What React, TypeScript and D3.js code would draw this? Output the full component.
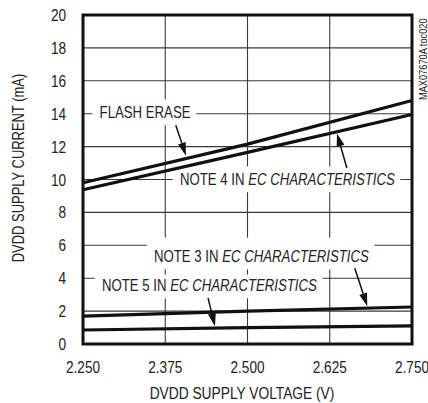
import React, { useEffect, useRef } from 'react'
import * as d3 from 'd3'

const voltages = [2.25, 2.5, 2.75]
const flashErase = [9.8, 12.15, 14.8]
const note4 = [9.38, 11.65, 13.95]
const note3 = [1.7, 2.0, 2.25]
const note5 = [0.85, 1.0, 1.1]

const xTicks = [2.25, 2.375, 2.5, 2.625, 2.75]
const xTickLabels = ['2.250', '2.375', '2.500', '2.625', '2.750']
const yTicks = [0, 2, 4, 6, 8, 10, 12, 14, 16, 18, 20]

// annotation label: text start / baseline (x in V, y in mA), plain part, italic part
const labels = [
  { x: 2.2752, y: 13.74, plain: 'FLASH ERASE', italic: '', padTop: 3 },
  { x: 2.3974, y: 9.67, plain: 'NOTE 4 IN ', italic: 'EC CHARACTERISTICS', padTop: 3 },
  { x: 2.3579, y: 4.98, plain: 'NOTE 3 IN ', italic: 'EC CHARACTERISTICS', padTop: 9 },
  { x: 2.2789, y: 3.22, plain: 'NOTE 5 IN ', italic: 'EC CHARACTERISTICS', padTop: 1 },
]

// arrows: from (x0,y0) to tip (x1,y1)
const arrows = [
  { x0: 2.391, y0: 13.3, x1: 2.4065, y1: 11.45 },
  { x0: 2.651, y0: 10.7, x1: 2.636, y1: 12.8 },
  { x0: 2.663, y0: 4.6, x1: 2.682, y1: 2.3 },
  { x0: 2.44, y0: 2.8, x1: 2.4506, y1: 1.08 },
]

const FONT = '"Liberation Sans", Arial, sans-serif'
const SQUEEZE = 0.8

type Sel = d3.Selection<any, unknown, null, undefined>

function condensed(parent: Sel, x: number, y: number, size: number, anchor: string, rot = 0, sx = SQUEEZE) {
  const g = parent.append('g').attr('transform', `translate(${x},${y}) rotate(${rot}) scale(${sx},1)`)
  const t = g.append('text').attr('font-family', FONT).attr('font-size', size)
    .attr('text-anchor', anchor).attr('fill', '#222')
  return { g, t }
}

export default function App() {
  const ref = useRef<SVGSVGElement>(null)

  useEffect(() => {
    const svg = d3.select(ref.current) as Sel
    svg.selectAll('*').remove()

    const left = 83, top = 15, w = 329, h = 329
    const x = d3.scaleLinear().domain([2.25, 2.75]).range([left, left + w])
    const y = d3.scaleLinear().domain([0, 20]).range([top + h, top])

    // grid
    const grid = svg.append('g').attr('stroke', '#3a3a3a').attr('stroke-width', 1.1)
    xTicks.slice(1, -1).forEach(t => {
      grid.append('line').attr('x1', x(t)).attr('x2', x(t)).attr('y1', top).attr('y2', top + h)
    })
    yTicks.slice(1, -1).forEach(t => {
      grid.append('line').attr('x1', left).attr('x2', left + w).attr('y1', y(t)).attr('y2', y(t))
    })

    // label boxes + text
    labels.forEach(l => {
      const { g, t } = condensed(svg, x(l.x), y(l.y), 16.5, 'start')
      t.append('tspan').text(l.plain)
      if (l.italic) t.append('tspan').attr('font-style', 'italic').text(l.italic)
      const bb = (t.node() as SVGTextElement).getBBox()
      g.insert('rect', 'text').attr('fill', 'white')
        .attr('x', bb.x - 9).attr('y', bb.y - l.padTop)
        .attr('width', bb.width + 16).attr('height', bb.height + l.padTop + 4)
    })

    // series
    const line = d3.line<number>().x((_, i) => x(voltages[i])).y(d => y(d))
    ;[flashErase, note4, note3, note5].forEach(s => {
      svg.append('path').attr('d', line(s)).attr('fill', 'none')
        .attr('stroke', '#111').attr('stroke-width', 3.2)
    })

    // arrows
    arrows.forEach(a => {
      const X0 = x(a.x0), Y0 = y(a.y0), X1 = x(a.x1), Y1 = y(a.y1)
      const ang = Math.atan2(Y1 - Y0, X1 - X0)
      const len = 13, hw = 4
      const bx = X1 - len * Math.cos(ang), by = Y1 - len * Math.sin(ang)
      svg.append('line').attr('x1', X0).attr('y1', Y0).attr('x2', bx).attr('y2', by)
        .attr('stroke', '#111').attr('stroke-width', 1.5)
      const px = -Math.sin(ang) * hw, py = Math.cos(ang) * hw
      svg.append('path')
        .attr('d', `M${X1},${Y1}L${bx + px},${by + py}L${bx - px},${by - py}Z`)
        .attr('fill', '#111')
    })

    // frame
    svg.append('rect').attr('x', left).attr('y', top).attr('width', w).attr('height', h)
      .attr('fill', 'none').attr('stroke', '#111').attr('stroke-width', 3)

    // y tick labels
    yTicks.forEach(t => {
      condensed(svg, 66, y(t) + 6, 17, 'end').t.text(t)
    })
    // x tick labels
    xTicks.forEach((t, i) => {
      condensed(svg, x(t), 373, 17, 'middle').t.text(xTickLabels[i])
    })

    // axis titles
    condensed(svg, 242, 399, 17, 'middle', 0, 0.81).t.text('DVDD SUPPLY VOLTAGE (V)')
    condensed(svg, 24, 168, 16, 'middle', -90, 0.81).t.text('DVDD SUPPLY CURRENT (mA)')

    condensed(svg, 427, 100, 11, 'start', -90, 0.84).t.text('MAX07670A toc020')
  }, [])

  return (
    <svg ref={ref} width={428} height={403}
      style={{ position: 'absolute', left: 0, top: 0, background: 'white' }} />
  )
}
